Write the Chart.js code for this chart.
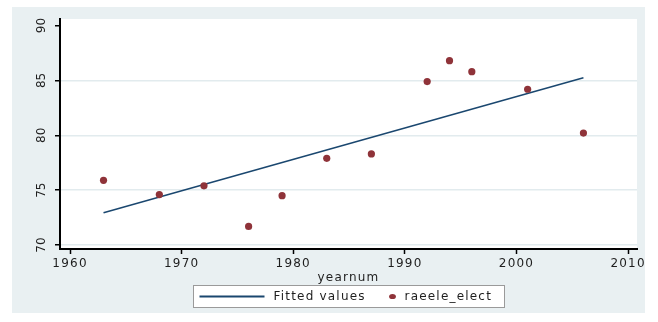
<!DOCTYPE html>
<html>
<head>
<meta charset="utf-8">
<script src="https://cdn.jsdelivr.net/npm/chart.js@4"></script>
<style>
  html, body { margin: 0; padding: 0; background: #ffffff; }
  #wrap { width: 658px; height: 322px; position: relative; }
</style>
</head>
<body>
<div id="wrap"><canvas id="fitChart"></canvas></div>
<script>
// datos
const years = [1963, 1968, 1972, 1976, 1979, 1983, 1987, 1992, 1994, 1996, 2001, 2006];
const raeeleElect = [75.9, 74.6, 75.4, 71.7, 74.5, 77.9, 78.3, 84.9, 86.8, 85.8, 84.2, 80.2];
const fitYears = [1963, 2006];
const fittedValues = [72.95, 85.25];
const xTicks = [1960, 1970, 1980, 1990, 2000, 2010];
const yTicks = [70, 75, 80, 85, 90];
const legendLabels = ['Fitted values', 'raeele_elect'];

const navy = '#1a476f';
const maroon = '#8f3339';
const regionColor = '#e9f0f2';
const gridColor = '#e2ebee';
const fontFamily = '"DejaVu Sans", Verdana, sans-serif';
const textColor = '#1e1e1e';

// fondo tipo Stata: región gris y área del gráfico en blanco
const backgroundPlugin = {
    id: 'stataBackground',
    beforeDraw(chart) {
        const { ctx, chartArea } = chart;
        ctx.letterSpacing = '1.2px';
        ctx.save();
        ctx.fillStyle = '#ffffff';
        ctx.fillRect(0, 0, chart.width, chart.height);
        ctx.fillStyle = regionColor;
        ctx.fillRect(12, 7, 633, 306);
        ctx.fillStyle = '#ffffff';
        ctx.fillRect(chartArea.left, chartArea.top, chartArea.right - chartArea.left, chartArea.bottom - chartArea.top);
        ctx.restore();
    },
    // las etiquetas del eje y (z: 1) se dibujan después, sin espaciado
    afterDatasetsDraw(chart) {
        chart.ctx.letterSpacing = '0px';
    }
};

// leyenda con recuadro, centrada bajo el área del gráfico
const legendPlugin = {
    id: 'stataLegend',
    afterDraw(chart) {
        const { ctx, chartArea } = chart;
        const cx = (chartArea.left + chartArea.right) / 2;
        const w = 311, h = 22;
        const x0 = Math.round(cx - w / 2) + 0.5, y0 = 285.5;
        ctx.save();
        ctx.fillStyle = '#ffffff';
        ctx.fillRect(x0, y0, w, h);
        ctx.strokeStyle = '#9a9a9a';
        ctx.lineWidth = 1;
        ctx.strokeRect(x0, y0, w, h);
        const my = y0 + h / 2;
        ctx.strokeStyle = navy;
        ctx.lineWidth = 2;
        ctx.beginPath();
        ctx.moveTo(x0 + 6, my);
        ctx.lineTo(x0 + 71, my);
        ctx.stroke();
        ctx.fillStyle = textColor;
        ctx.font = '12px ' + fontFamily;
        ctx.letterSpacing = '1.2px';
        ctx.textBaseline = 'middle';
        ctx.fillText(legendLabels[0], x0 + 80, my);
        ctx.fillStyle = maroon;
        ctx.beginPath();
        ctx.ellipse(x0 + 199, my, 3.4, 2.6, 0, 0, Math.PI * 2);
        ctx.fill();
        ctx.fillStyle = textColor;
        ctx.fillText(legendLabels[1], x0 + 211, my);
        ctx.restore();
    }
};

const ctxFit = document.getElementById('fitChart');
new Chart(ctxFit, {
    type: 'scatter',
    data: {
        datasets: [{
            type: 'line',
            label: legendLabels[0],
            data: fitYears.map((x, i) => ({ x: x, y: fittedValues[i] })),
            borderColor: navy,
            borderWidth: 1.5,
            pointRadius: 0,
            fill: false,
            order: 2
        }, {
            label: legendLabels[1],
            data: years.map((x, i) => ({ x: x, y: raeeleElect[i] })),
            pointStyle: 'circle',
            backgroundColor: maroon,
            borderColor: maroon,
            borderWidth: 0,
            pointRadius: 3.6,
            order: 1
        }]
    },
    options: {
        responsive: true,
        maintainAspectRatio: false,
        animation: false,
        layout: { padding: { left: 12, right: 21, top: 19, bottom: 37 } },
        plugins: { legend: { display: false }, tooltip: { enabled: false } },
        scales: {
            x: {
                type: 'linear',
                min: 1959.1,
                max: 2010.8,
                afterBuildTicks: s => { s.ticks = xTicks.map(v => ({ value: v })); },
                afterFit: s => { s.height = 36; },
                border: { color: '#000000', width: 2 },
                grid: { drawOnChartArea: false, tickLength: 5, tickColor: '#000000', tickWidth: 1.5 },
                ticks: {
                    color: textColor,
                    padding: 3,
                    maxRotation: 0,
                    callback: v => String(v),
                    font: { family: fontFamily, size: 12 }
                },
                title: { display: true, text: 'yearnum', color: textColor, padding: { top: 0, bottom: 0 }, font: { family: fontFamily, size: 12 } }
            },
            y: {
                min: 69.64,
                max: 90.6,
                afterBuildTicks: s => { s.ticks = yTicks.map(v => ({ value: v })); },
                afterFit: s => { s.width = 48; },
                border: { color: '#000000', width: 2 },
                grid: {
                    color: c => (c.tick && c.tick.value === 90 ? 'rgba(0,0,0,0)' : gridColor),
                    lineWidth: 1.5,
                    tickLength: 5,
                    tickColor: '#000000',
                    tickWidth: 1.5
                },
                ticks: {
                    z: 1,
                    color: textColor,
                    minRotation: 90,
                    maxRotation: 90,
                    crossAlign: 'center',
                    padding: 5,
                    font: { family: fontFamily, size: 12 }
                }
            }
        }
    },
    plugins: [backgroundPlugin, legendPlugin]
});
</script>
</body>
</html>
